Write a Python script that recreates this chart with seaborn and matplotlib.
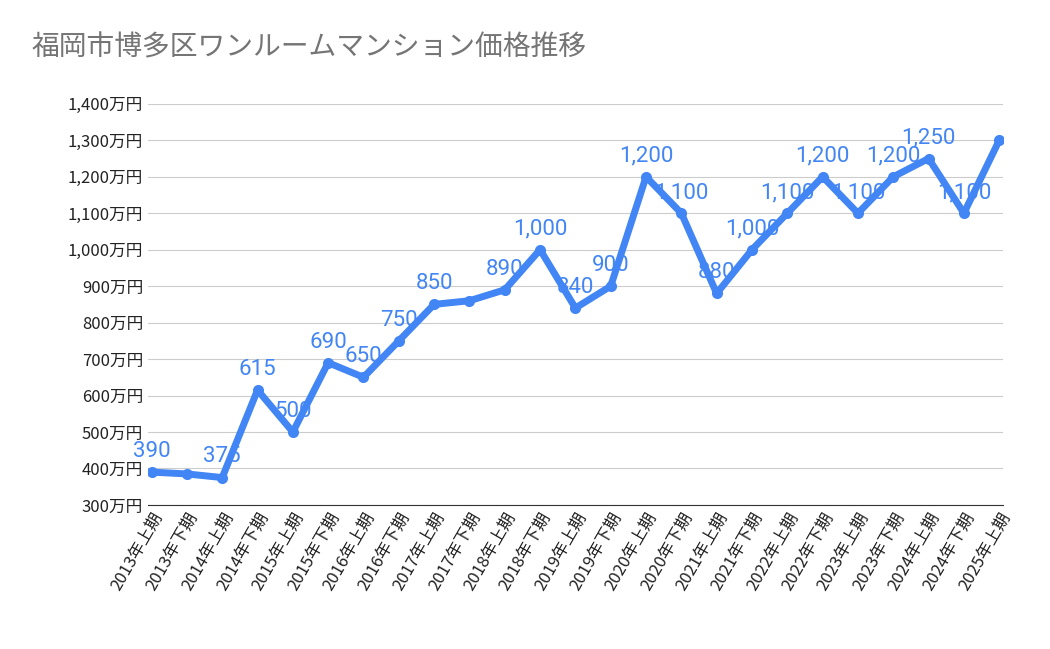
import matplotlib.pyplot as plt
import seaborn as sns
import pandas as pd

plt.rcParams["font.family"] = "Noto Sans CJK JP"

periods = [f"{y}年{h}期" for y in range(2013, 2025) for h in ["上", "下"]] + ["2025年上期"]
prices = [390, 385, 375, 615, 500, 690, 650, 750, 850, 860, 890, 1000, 840,
          900, 1200, 1100, 880, 1000, 1100, 1200, 1100, 1200, 1250, 1100, 1300]
point_labels = ["390", None, "375", "615", "500", "690", "650", "750", "850", None,
                "890", "1,000", "840", "900", "1,200", "1,100", "880", "1,000",
                "1,100", "1,200", "1,100", "1,200", "1,250", "1,100", None]
yticks = list(range(300, 1401, 100))

df = pd.DataFrame({"period": periods, "price": prices})
df["x"] = range(len(df))

blue = "#4285f4"
fig, ax = plt.subplots(figsize=(10.5, 6.49), dpi=100)
fig.subplots_adjust(left=0.141, right=0.955, top=0.84, bottom=0.222)

sns.lineplot(data=df, x="x", y="price", ax=ax, color=blue, linewidth=5,
             marker="o", markersize=8, markeredgewidth=0)

for xi, yi, lab in zip(df["x"], df["price"], point_labels):
    if lab:
        ax.text(xi, yi + 28, lab, color=blue, fontsize=16, ha="center", va="bottom",
                fontfamily="Roboto")

ax.set_xlim(-0.1, len(df) - 0.9)
ax.set_ylim(300, 1400)
ax.set_yticks(yticks)
ax.set_yticklabels([f"{v:,}万円" for v in yticks], fontsize=12, color="#222222")
ax.set_xticks(df["x"])
ax.set_xticklabels(periods, rotation=60, ha="right", rotation_mode="anchor",
                   fontsize=12, color="#222222")
ax.grid(axis="y", color="#cccccc", linewidth=0.8)
ax.grid(axis="x", visible=False)
for s in ["top", "right", "left"]:
    ax.spines[s].set_visible(False)
ax.spines["bottom"].set_color("#333333")
ax.tick_params(length=0)
ax.set_xlabel("")
ax.set_ylabel("")
fig.text(0.03, 0.915, "福岡市博多区ワンルームマンション価格推移", fontsize=20, color="#757575")

plt.savefig("out.png", dpi=100)
